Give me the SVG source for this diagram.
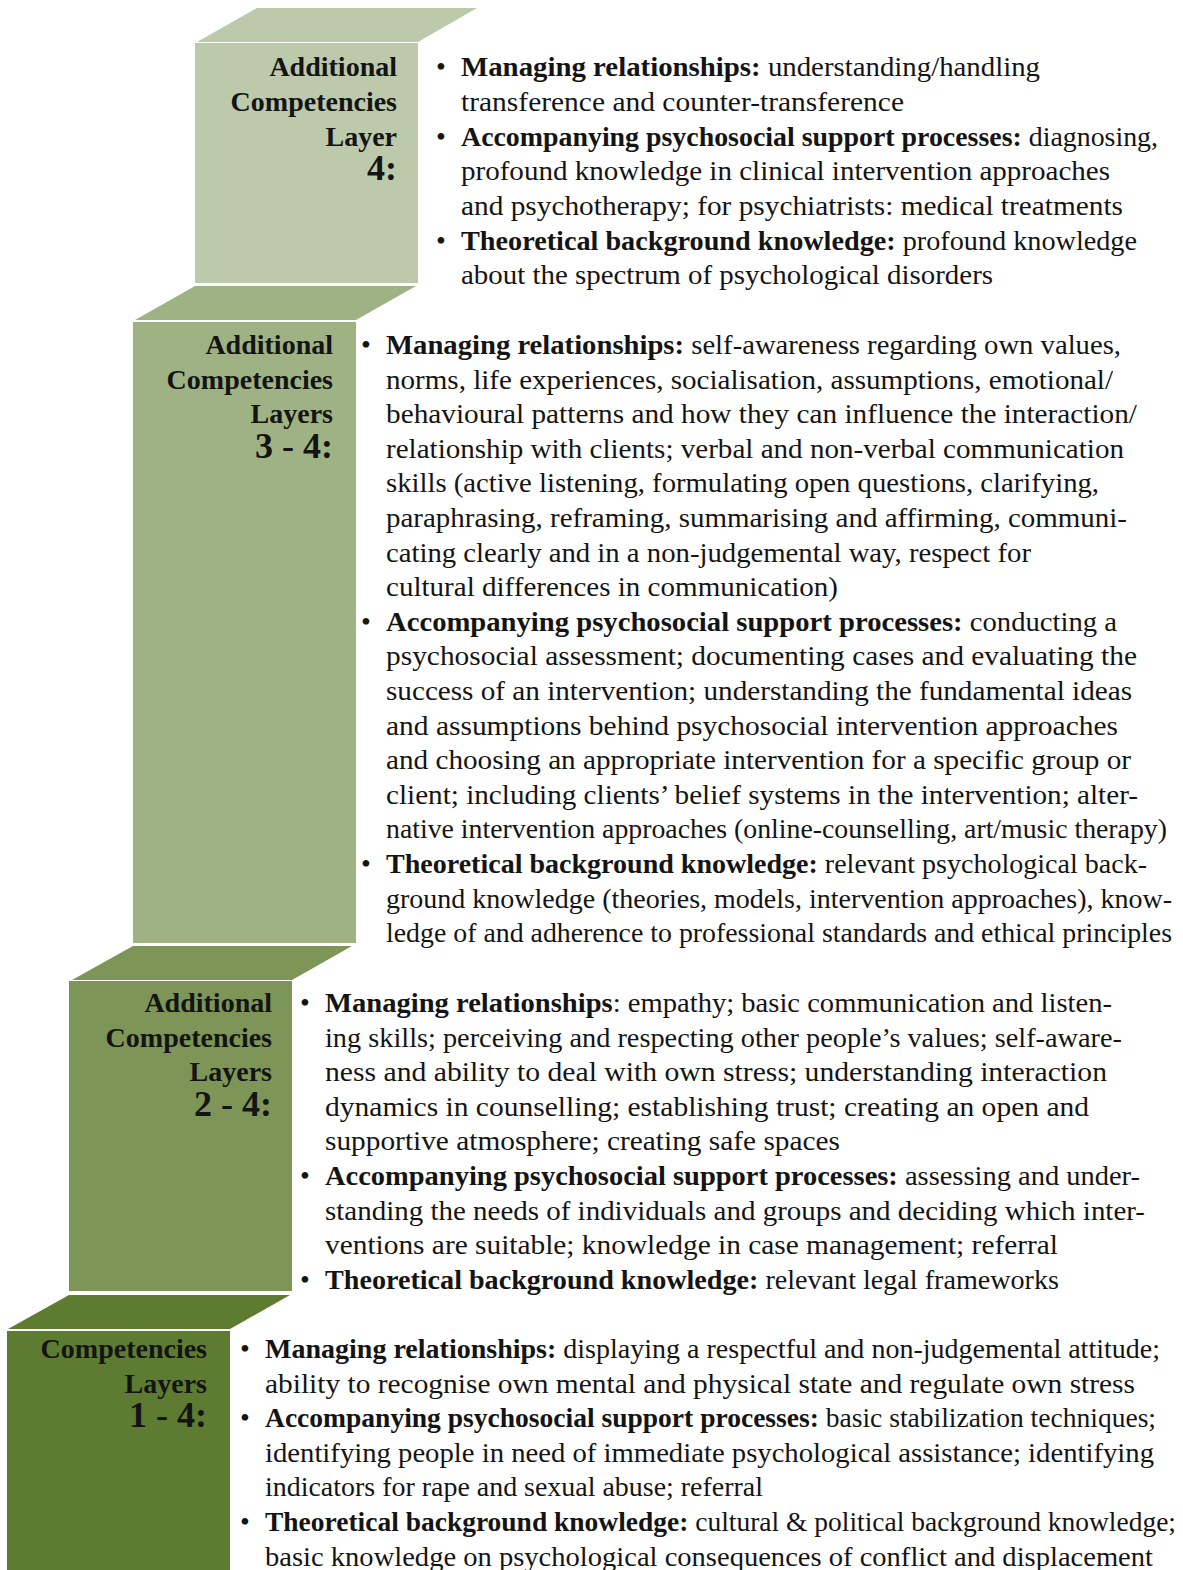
<svg xmlns="http://www.w3.org/2000/svg" width="1183" height="1570" viewBox="0 0 1183 1570">
<style>
.t{font-family:"Liberation Serif","Times New Roman",serif;font-size:28px;fill:#141414}
.lbl{font-family:"Liberation Serif","Times New Roman",serif;font-size:28px;font-weight:bold;fill:#141414;text-anchor:end}
.num{font-family:"Liberation Serif","Times New Roman",serif;font-size:36px;font-weight:bold;fill:#141414;text-anchor:end}
.bul{font-family:"Liberation Serif","Times New Roman",serif;font-size:28px;fill:#141414;text-anchor:middle}
.b{font-weight:bold}
.c4{fill:#bccaab}
.c3{fill:#9fb284}
.c2{fill:#7d9557}
.c1{fill:#5e7c31}
</style>
<rect width="1183" height="1570" fill="#ffffff"/>

<g id="layer4">
<polygon class="c4" points="257,8 477,8 418,42 197,42"/>
<rect class="c4" x="195" y="43" width="223" height="240"/>
<text class="lbl" x="397" y="76">Additional</text>
<text class="lbl" x="397" y="111">Competencies</text>
<text class="lbl" x="397" y="146">Layer</text>
<text class="num" x="397" y="180">4:</text>
<text class="bul" x="441" y="76">•</text>
<text class="bul" x="441" y="146">•</text>
<text class="bul" x="441" y="250">•</text>
<text class="t" x="461" y="76" textLength="579" lengthAdjust="spacingAndGlyphs"><tspan class="b">Managing relationships:</tspan> understanding/handling</text>
<text class="t" x="461" y="111" textLength="443" lengthAdjust="spacingAndGlyphs">transference and counter-transference</text>
<text class="t" x="461" y="146" textLength="697" lengthAdjust="spacingAndGlyphs"><tspan class="b">Accompanying psychosocial support processes:</tspan> diagnosing,</text>
<text class="t" x="461" y="180" textLength="649" lengthAdjust="spacingAndGlyphs">profound knowledge in clinical intervention approaches</text>
<text class="t" x="461" y="215" textLength="662" lengthAdjust="spacingAndGlyphs">and psychotherapy; for psychiatrists: medical treatments</text>
<text class="t" x="461" y="250" textLength="676" lengthAdjust="spacingAndGlyphs"><tspan class="b">Theoretical background knowledge:</tspan> profound knowledge</text>
<text class="t" x="461" y="284" textLength="532" lengthAdjust="spacingAndGlyphs">about the spectrum of psychological disorders</text>
</g>

<g id="layer3">
<polygon class="c3" points="195,286 416,286 356,320 135,320"/>
<rect class="c3" x="133" y="322" width="223" height="621"/>
<text class="lbl" x="333" y="354">Additional</text>
<text class="lbl" x="333" y="389">Competencies</text>
<text class="lbl" x="333" y="423">Layers</text>
<text class="num" x="333" y="458">3 - 4:</text>
<text class="bul" x="366" y="354">•</text>
<text class="bul" x="366" y="631">•</text>
<text class="bul" x="366" y="873">•</text>
<text class="t" x="386" y="354" textLength="735" lengthAdjust="spacingAndGlyphs"><tspan class="b">Managing relationships:</tspan> self-awareness regarding own values,</text>
<text class="t" x="386" y="389" textLength="727" lengthAdjust="spacingAndGlyphs">norms, life experiences, socialisation, assumptions, emotional/</text>
<text class="t" x="386" y="423" textLength="751" lengthAdjust="spacingAndGlyphs">behavioural patterns and how they can influence the interaction/</text>
<text class="t" x="386" y="458" textLength="738" lengthAdjust="spacingAndGlyphs">relationship with clients; verbal and non-verbal communication</text>
<text class="t" x="386" y="492" textLength="713" lengthAdjust="spacingAndGlyphs">skills (active listening, formulating open questions, clarifying,</text>
<text class="t" x="386" y="527" textLength="741" lengthAdjust="spacingAndGlyphs">paraphrasing, reframing, summarising and affirming, communi-</text>
<text class="t" x="386" y="562" textLength="645" lengthAdjust="spacingAndGlyphs">cating clearly and in a non-judgemental way, respect for</text>
<text class="t" x="386" y="596" textLength="452" lengthAdjust="spacingAndGlyphs">cultural differences in communication)</text>
<text class="t" x="386" y="631" textLength="731" lengthAdjust="spacingAndGlyphs"><tspan class="b">Accompanying psychosocial support processes:</tspan> conducting a</text>
<text class="t" x="386" y="665" textLength="751" lengthAdjust="spacingAndGlyphs">psychosocial assessment; documenting cases and evaluating the</text>
<text class="t" x="386" y="700" textLength="746" lengthAdjust="spacingAndGlyphs">success of an intervention; understanding the fundamental ideas</text>
<text class="t" x="386" y="735" textLength="732" lengthAdjust="spacingAndGlyphs">and assumptions behind psychosocial intervention approaches</text>
<text class="t" x="386" y="769" textLength="745" lengthAdjust="spacingAndGlyphs">and choosing an appropriate intervention for a specific group or</text>
<text class="t" x="386" y="804" textLength="752" lengthAdjust="spacingAndGlyphs">client; including clients’ belief systems in the intervention; alter-</text>
<text class="t" x="386" y="838" textLength="781" lengthAdjust="spacingAndGlyphs">native intervention approaches (online-counselling, art/music therapy)</text>
<text class="t" x="386" y="873" textLength="761" lengthAdjust="spacingAndGlyphs"><tspan class="b">Theoretical background knowledge:</tspan> relevant psychological back-</text>
<text class="t" x="386" y="908" textLength="786" lengthAdjust="spacingAndGlyphs">ground knowledge (theories, models, intervention approaches), know-</text>
<text class="t" x="386" y="942" textLength="786" lengthAdjust="spacingAndGlyphs">ledge of and adherence to professional standards and ethical principles</text>
</g>

<g id="layer2">
<polygon class="c2" points="133,946 352,946 292,980 72,980"/>
<rect class="c2" x="69" y="981" width="223" height="310"/>
<text class="lbl" x="272" y="1012">Additional</text>
<text class="lbl" x="272" y="1047">Competencies</text>
<text class="lbl" x="272" y="1081">Layers</text>
<text class="num" x="272" y="1116">2 - 4:</text>
<text class="bul" x="305" y="1012">•</text>
<text class="bul" x="305" y="1185">•</text>
<text class="bul" x="305" y="1289">•</text>
<text class="t" x="325" y="1012" textLength="787" lengthAdjust="spacingAndGlyphs"><tspan class="b">Managing relationships</tspan>: empathy; basic communication and listen-</text>
<text class="t" x="325" y="1047" textLength="797" lengthAdjust="spacingAndGlyphs">ing skills; perceiving and respecting other people’s values; self-aware-</text>
<text class="t" x="325" y="1081" textLength="782" lengthAdjust="spacingAndGlyphs">ness and ability to deal with own stress; understanding interaction</text>
<text class="t" x="325" y="1116" textLength="764" lengthAdjust="spacingAndGlyphs">dynamics in counselling; establishing trust; creating an open and</text>
<text class="t" x="325" y="1150" textLength="515" lengthAdjust="spacingAndGlyphs">supportive atmosphere; creating safe spaces</text>
<text class="t" x="325" y="1185" textLength="815" lengthAdjust="spacingAndGlyphs"><tspan class="b">Accompanying psychosocial support processes:</tspan> assessing and under-</text>
<text class="t" x="325" y="1220" textLength="820" lengthAdjust="spacingAndGlyphs">standing the needs of individuals and groups and deciding which inter-</text>
<text class="t" x="325" y="1254" textLength="733" lengthAdjust="spacingAndGlyphs">ventions are suitable; knowledge in case management; referral</text>
<text class="t" x="325" y="1289" textLength="734" lengthAdjust="spacingAndGlyphs"><tspan class="b">Theoretical background knowledge:</tspan> relevant legal frameworks</text>
</g>

<g id="layer1">
<polygon class="c1" points="69,1295 290,1295 230,1329 8,1329"/>
<rect class="c1" x="7" y="1331" width="223" height="239"/>
<text class="lbl" x="207" y="1358">Competencies</text>
<text class="lbl" x="207" y="1393">Layers</text>
<text class="num" x="207" y="1427">1 - 4:</text>
<text class="bul" x="245" y="1358">•</text>
<text class="bul" x="245" y="1427">•</text>
<text class="bul" x="245" y="1531">•</text>
<text class="t" x="265" y="1358" textLength="895" lengthAdjust="spacingAndGlyphs"><tspan class="b">Managing relationships:</tspan> displaying a respectful and non-judgemental attitude;</text>
<text class="t" x="265" y="1393" textLength="870" lengthAdjust="spacingAndGlyphs">ability to recognise own mental and physical state and regulate own stress</text>
<text class="t" x="265" y="1427" textLength="891" lengthAdjust="spacingAndGlyphs"><tspan class="b">Accompanying psychosocial support processes:</tspan> basic stabilization techniques;</text>
<text class="t" x="265" y="1462" textLength="889" lengthAdjust="spacingAndGlyphs">identifying people in need of immediate psychological assistance; identifying</text>
<text class="t" x="265" y="1496" textLength="498" lengthAdjust="spacingAndGlyphs">indicators for rape and sexual abuse; referral</text>
<text class="t" x="265" y="1531" textLength="911" lengthAdjust="spacingAndGlyphs"><tspan class="b">Theoretical background knowledge:</tspan> cultural &amp; political background knowledge;</text>
<text class="t" x="265" y="1566" textLength="888" lengthAdjust="spacingAndGlyphs">basic knowledge on psychological consequences of conflict and displacement</text>
</g>
</svg>
